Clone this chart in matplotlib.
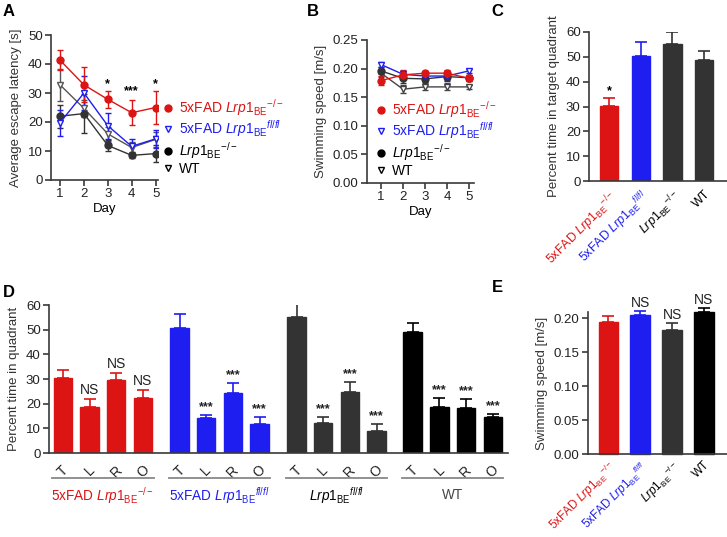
import numpy as np
import matplotlib
matplotlib.use('Agg')
from matplotlib import pyplot as plt
from matplotlib.lines import Line2D
import matplotlib.transforms as mtransforms

plt.rcParams['font.family'] = ['Liberation Sans', 'DejaVu Sans']
plt.rcParams['mathtext.fontset'] = 'custom'
plt.rcParams['mathtext.rm'] = 'Liberation Sans'
plt.rcParams['mathtext.it'] = 'Liberation Sans:italic'
plt.rcParams['mathtext.bf'] = 'Liberation Sans:bold'

RED = '#dc1414'
BLUE = '#1e1ef0'
DARK = '#333333'
BLACK = '#000000'
AX = '#3a3a3a'

# group labels
lab_fad_ko = r'5xFAD $\mathit{Lrp1}_{\mathrm{BE}}{}^{-/-}$'
lab_fad_fl = r'5xFAD $\mathit{Lrp1}_{\mathrm{BE}}{}^{\mathit{fl/fl}}$'
lab_ko = r'$\mathit{Lrp1}_{\mathrm{BE}}{}^{-/-}$'
lab_fl = r'$\mathit{Lrp1}_{\mathrm{BE}}{}^{\mathit{fl/fl}}$'
lab_wt = 'WT'

# A: escape latency per day
days = [1, 2, 3, 4, 5]
lat_fad_ko = [41.3, 32.8, 27.8, 23.2, 25.0]
lat_fad_ko_err = [3.4, 6.0, 3.0, 4.3, 5.8]
lat_fad_fl = [19.8, 30.0, 18.7, 11.6, 14.2]
lat_fad_fl_err = [4.5, 5.8, 4.5, 2.4, 3.0]
lat_ko = [22.0, 22.9, 11.9, 8.5, 9.1]
lat_ko_err = [4.0, 6.7, 1.8, 1.0, 2.8]
lat_wt = [32.8, 24.7, 15.9, 11.2, 14.0]
lat_wt_err = [5.5, 3.0, 2.5, 2.0, 2.5]
lat_stars = {3: ('*', 33.0), 4: ('***', 30.5), 5: ('*', 33.0)}

# B: swimming speed per day
spd_fad_ko = [0.179, 0.189, 0.192, 0.192, 0.183]
spd_fad_ko_err = [0.008, 0.008, 0.004, 0.006, 0.005]
spd_fad_fl = [0.207, 0.190, 0.187, 0.187, 0.196]
spd_fad_fl_err = [0.005, 0.006, 0.006, 0.008, 0.004]
spd_ko = [0.196, 0.183, 0.182, 0.186, 0.184]
spd_ko_err = [0.006, 0.008, 0.005, 0.006, 0.005]
spd_wt = [0.192, 0.164, 0.168, 0.168, 0.168]
spd_wt_err = [0.006, 0.007, 0.006, 0.006, 0.004]

# C: percent time in target quadrant
c_vals = [30.2, 50.3, 55.0, 48.7]
c_err = [3.2, 5.5, 5.2, 3.6]
c_stars = ['*', '', '', '']

# D: percent time in each quadrant
quadrants = ['T', 'L', 'R', 'O']
d_fad_ko = [30.4, 18.6, 29.4, 22.4]
d_fad_ko_err = [3.1, 3.3, 3.0, 3.0]
d_fad_fl = [50.5, 14.3, 24.3, 11.6]
d_fad_fl_err = [5.7, 1.2, 3.9, 3.0]
d_ko = [55.3, 12.0, 24.6, 9.0]
d_ko_err = [5.4, 2.5, 4.0, 2.7]
d_wt = [48.9, 18.8, 18.1, 14.7]
d_wt_err = [3.8, 3.4, 3.7, 1.0]
d_fad_ko_sig = ['', 'NS', 'NS', 'NS']
d_other_sig = ['', '***', '***', '***']

# E: swimming speed
e_vals = [0.195, 0.205, 0.183, 0.210]
e_err = [0.008, 0.006, 0.010, 0.005]
e_sig = ['', 'NS', 'NS', 'NS']

W, H = 727, 537
FS = 9.5
TS = 9
fig = plt.figure(figsize=(W / 100, H / 100), dpi=100)


def box(l, t, r, b):
    return [l / W, 1 - b / H, (r - l) / W, (b - t) / H]


def style(ax):
    for s in ['top', 'right']:
        ax.spines[s].set_visible(False)
    for s in ['left', 'bottom']:
        ax.spines[s].set_color(AX)
        ax.spines[s].set_linewidth(1.2)
    ax.tick_params(direction='out', length=4, width=1.2, color=AX,
                   labelsize=TS + 0.5, labelcolor='#222222', pad=2)


grp_labels = [lab_fad_ko, lab_fad_fl, lab_ko, lab_wt]
grp_colors = [RED, BLUE, BLACK, BLACK]

leg_handles = [
    Line2D([], [], ls='none', marker='o', ms=5, mfc=RED, mec=RED),
    Line2D([], [], ls='none', marker='v', ms=5, mfc='white', mec=BLUE),
    Line2D([], [], ls='none', marker='o', ms=5, mfc=BLACK, mec=BLACK),
    Line2D([], [], ls='none', marker='v', ms=5, mfc='white', mec=BLACK),
]
leg_labels = [lab_fad_ko, lab_fad_fl, lab_ko, lab_wt]
leg_kw = dict(loc='upper left', frameon=False, bbox_transform=fig.transFigure,
              fontsize=10, handlelength=0.5, handletextpad=0.5, labelspacing=0.05,
              borderaxespad=0, borderpad=0, labelcolor=[RED, BLUE, BLACK, BLACK])

# ---------- A ----------
axA = fig.add_axes(box(51, 35, 158, 180))
style(axA)
series = [
    (lat_fad_ko, lat_fad_ko_err, RED, 'o', RED),
    (lat_fad_fl, lat_fad_fl_err, BLUE, 'v', 'white'),
    (lat_ko, lat_ko_err, DARK, 'o', DARK),
    (lat_wt, lat_wt_err, '#555555', 'v', 'white'),
]
for y, e, col, m, fc in series[::-1]:
    axA.errorbar(days, y, yerr=e, color=col, lw=1.0, marker=m, ms=5,
                 mfc=fc, mec=col, mew=1.0, capsize=2.5, elinewidth=1.0)
for d, (s, yy) in lat_stars.items():
    axA.text(d, yy, s, ha='center', va='center', fontsize=TS, fontweight='bold')
axA.set_ylim(0, 50)
axA.set_xlim(0.62, 5.1)
axA.set_yticks([0, 10, 20, 30, 40, 50])
axA.set_xticks(days)
axA.set_xlabel('Day', fontsize=FS, labelpad=2)
axA.set_ylabel('Average escape latency [s]', fontsize=FS, color='#333333', labelpad=4)
axA.legend(leg_handles, leg_labels, bbox_to_anchor=(165 / W, 1 - 97 / H), **leg_kw)

# ---------- B ----------
axB = fig.add_axes(box(367, 40, 474, 183))
style(axB)
series = [
    (spd_fad_ko, spd_fad_ko_err, RED, 'o', RED),
    (spd_fad_fl, spd_fad_fl_err, BLUE, 'v', 'white'),
    (spd_ko, spd_ko_err, DARK, 'o', DARK),
    (spd_wt, spd_wt_err, '#444444', 'v', 'white'),
]
for y, e, col, m, fc in series[::-1]:
    axB.errorbar(days, y, yerr=e, color=col, lw=1.0, marker=m, ms=5,
                 mfc=fc, mec=col, mew=1.0, capsize=2.5, elinewidth=1.0)
axB.set_ylim(0, 0.25)
axB.set_xlim(0.36, 5.23)
axB.set_yticks(np.arange(0, 0.26, 0.05))
axB.set_yticklabels(['%.2f' % v for v in np.arange(0, 0.26, 0.05)])
axB.set_xticks(days)
axB.set_xlabel('Day', fontsize=FS, labelpad=2)
axB.set_ylabel('Swimming speed [m/s]', fontsize=FS, color='#333333', labelpad=4)
axB.legend(leg_handles, leg_labels, bbox_to_anchor=(378 / W, 1 - 99 / H), **leg_kw)

# ---------- C ----------
bar_cols = [RED, BLUE, DARK, DARK]
axC = fig.add_axes(box(589, 32, 727, 181))
style(axC)
xc = np.arange(4)
axC.bar(xc, c_vals, width=0.58, color=bar_cols, edgecolor=bar_cols, lw=1)
for i in range(4):
    axC.errorbar(xc[i], c_vals[i], yerr=[[0], [c_err[i]]], fmt='none',
                 ecolor=bar_cols[i], capsize=4.5, elinewidth=1.2, capthick=1.2)
    if c_stars[i]:
        axC.text(xc[i], c_vals[i] + c_err[i] + 0.5, c_stars[i], ha='center',
                 va='bottom', fontsize=TS, fontweight='bold')
axC.set_ylim(0, 60)
axC.set_xlim(-0.63, 3.72)
axC.set_yticks(range(0, 61, 10))
axC.set_xticks(xc)
axC.set_xticklabels(grp_labels, rotation=45, ha='right', rotation_mode='anchor',
                    fontsize=9)
for t, c in zip(axC.get_xticklabels(), grp_colors):
    t.set_color(c)
axC.tick_params(axis='x', length=0, pad=5)
axC.set_ylabel('Percent time in target quadrant', fontsize=FS, color='#333333', labelpad=4)

# ---------- D ----------
axD = fig.add_axes(box(49, 305, 508, 453))
style(axD)
offsets = [0, 4.37, 8.75, 13.1]
d_groups = [
    (d_fad_ko, d_fad_ko_err, RED, d_fad_ko_sig, lab_fad_ko, RED),
    (d_fad_fl, d_fad_fl_err, BLUE, d_other_sig, lab_fad_fl, BLUE),
    (d_ko, d_ko_err, DARK, d_other_sig, lab_fl, BLACK),
    (d_wt, d_wt_err, BLACK, d_other_sig, lab_wt, '#444444'),
]
trans = mtransforms.blended_transform_factory(axD.transData, axD.transAxes)
all_x, all_lab = [], []
for off, (vals, errs, col, sig, lab, lcol) in zip(offsets, d_groups):
    x = off + np.arange(4)
    axD.bar(x, vals, width=0.69, color=col, edgecolor=col, lw=1)
    axD.errorbar(x, vals, yerr=[np.zeros(4), errs], fmt='none', ecolor=col,
                 capsize=4.5, elinewidth=1.2, capthick=1.2)
    for xi, v, e, s in zip(x, vals, errs, sig):
        if s:
            axD.text(xi, v + e + 0.8, s, ha='center', va='bottom',
                     fontsize=FS + 0.5 if s == 'NS' else TS,
                     fontweight='normal' if s == 'NS' else 'bold',
                     color='#222222')
    axD.plot([x[0] - 0.4, x[-1] + 0.4], [-0.17, -0.17], color='#888888', lw=1.3,
             transform=trans, clip_on=False)
    axD.text(x.mean(), -0.285, lab, ha='center', va='center', fontsize=FS + 0.3,
             color=lcol, transform=trans)
    all_x += list(x)
    all_lab += quadrants
axD.set_ylim(0, 60)
axD.set_xlim(-0.52, 16.67)
axD.set_yticks(range(0, 61, 10))
axD.set_xticks(all_x)
axD.set_xticklabels(all_lab, rotation=45, ha='center', va='top', fontsize=FS + 0.5)
axD.tick_params(axis='x', length=0, pad=7)
axD.set_ylabel('Percent time in quadrant', fontsize=FS, color='#333333', labelpad=4)

# ---------- E ----------
e_cols = [RED, BLUE, DARK, BLACK]
axE = fig.add_axes(box(588, 311.7, 727, 454.3))
style(axE)
axE.bar(xc, e_vals, width=0.6, color=e_cols, edgecolor=e_cols, lw=1, clip_on=False)
for i in range(4):
    eb = axE.errorbar(xc[i], e_vals[i], yerr=[[0], [e_err[i]]], fmt='none',
                      ecolor=e_cols[i], capsize=4.5, elinewidth=1.2, capthick=1.2)
    for art in eb.lines[1] + eb.lines[2]:
        art.set_clip_on(False)
    if e_sig[i]:
        axE.text(xc[i], e_vals[i] + e_err[i] + 0.002, e_sig[i], ha='center',
                 va='bottom', fontsize=FS + 0.5, color='#222222', clip_on=False)
axE.set_ylim(0, 0.21)
axE.set_xlim(-0.63, 3.72)
axE.set_yticks(np.arange(0, 0.201, 0.05))
axE.set_yticklabels(['%.2f' % v for v in np.arange(0, 0.201, 0.05)])
axE.set_xticks(xc)
axE.set_xticklabels(grp_labels, rotation=45, ha='right', rotation_mode='anchor',
                    fontsize=8.5)
for t, c in zip(axE.get_xticklabels(), grp_colors):
    t.set_color(c)
axE.tick_params(axis='x', length=0, pad=3)
axE.set_ylabel('Swimming speed [m/s]', fontsize=FS, color='#333333', labelpad=4)

# panel letters
for lt, x, y in [('A', 3, 4), ('B', 307, 4), ('C', 491, 4), ('D', 3, 285), ('E', 492, 280)]:
    fig.text(x / W, 1 - y / H, lt, fontsize=12, fontweight='bold', va='top', ha='left')

fig.savefig('out.png', dpi=100)
